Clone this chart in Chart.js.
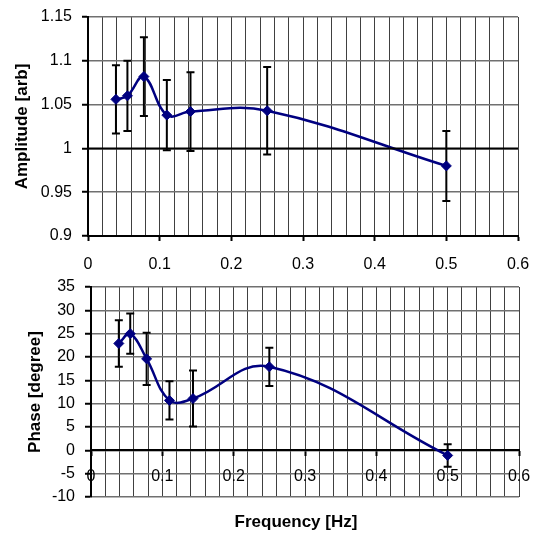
<!DOCTYPE html>
<html>
<head>
<meta charset="utf-8">
<script src="https://cdn.jsdelivr.net/npm/chart.js@4.4.0/dist/chart.umd.min.js"></script>
<style>
  body { margin: 0; background: #fff; }
  canvas { display: block; }
</style>
</head>
<body>
<canvas id="ampChart" width="538" height="270"></canvas>
<canvas id="phaseChart" width="538" height="265"></canvas>
<script>
// Fréquences mesurées (Hz)
const freq = [0.039, 0.055, 0.078, 0.11, 0.143, 0.25, 0.5];
// Amplitude et barres d'erreur
const amp = [1.056, 1.060, 1.082, 1.038, 1.042, 1.043, 0.980];
const ampErr = [0.039, 0.040, 0.045, 0.040, 0.045, 0.050, 0.040];
// Phase (degrés) et barres d'erreur
const phase = [22.9, 25.0, 19.6, 10.7, 11.1, 17.9, -1.1];
const phaseErr = [5.0, 4.3, 5.6, 4.1, 6.0, 4.1, 2.4];
// Ligne de référence à 1
const refX = [0, 0.6];
const refY = [1, 1];
// Graduations
const xTickLabels = ['0', '0.1', '0.2', '0.3', '0.4', '0.5', '0.6'];
const ampTicks = [0.9, 0.95, 1, 1.05, 1.1, 1.15];
const phaseTicks = [-10, -5, 0, 5, 10, 15, 20, 25, 30, 35];

const FONT = '"Liberation Sans", Arial, sans-serif';
const NAVY = '#000080';

// Plugin pour dessiner les barres d'erreur via les échelles
const errorBars = {
  id: 'errorBars',
  beforeDatasetsDraw(chart, args, opts) {
    const xs = chart.scales.x, ys = chart.scales.y;
    const ctx = chart.ctx;
    ctx.save();
    ctx.strokeStyle = '#000';
    ctx.lineWidth = 2;
    opts.values.forEach((v, i) => {
      const x = xs.getPixelForValue(freq[i]);
      const yTop = ys.getPixelForValue(v + opts.err[i]);
      const yBot = ys.getPixelForValue(v - opts.err[i]);
      ctx.beginPath();
      ctx.moveTo(x, yTop); ctx.lineTo(x, yBot);
      ctx.moveTo(x - 4, yTop); ctx.lineTo(x + 4, yTop);
      ctx.moveTo(x - 4, yBot); ctx.lineTo(x + 4, yBot);
      ctx.stroke();
    });
    ctx.restore();
  }
};

// Titre de l'axe des fréquences sous le second graphique
const freqLabel = {
  id: 'freqLabel',
  afterDraw(chart) {
    const ctx = chart.ctx;
    ctx.save();
    ctx.font = 'bold 17px ' + FONT;
    ctx.fillStyle = '#000';
    ctx.textAlign = 'center';
    ctx.textBaseline = 'middle';
    ctx.fillText('Frequency [Hz]', 296, 252);
    ctx.restore();
  }
};

function isMajor(v) {
  return Math.abs(v * 10 - Math.round(v * 10)) < 1e-6;
}

function xScale(position, pad) {
  return {
    type: 'linear',
    position: position,
    min: 0,
    max: 0.6,
    // hauteur fixe, et pas de marge ajoutée pour les étiquettes des bords
    afterFit: s => { s.height = 34; s.paddingLeft = 0; s.paddingRight = 0; },
    ticks: {
      stepSize: 0.02,
      autoSkip: false,
      maxRotation: 0,
      padding: pad,
      color: '#000',
      font: { family: FONT, size: 16 },
      callback: v => isMajor(v) ? xTickLabels[Math.round(v * 10)] : ''
    },
    grid: {
      color: '#404040',
      lineWidth: 1,
      tickLength: 5,
      tickColor: c => (c.tick && isMajor(c.tick.value)) ? '#000' : 'rgba(0,0,0,0)',
      tickWidth: 2
    },
    border: { color: '#000', width: 2 }
  };
}

function yScale(title, ticks, width, titlePad) {
  return {
    type: 'linear',
    min: ticks[0],
    max: ticks[ticks.length - 1],
    afterFit: s => { s.width = width; s.paddingTop = 0; s.paddingBottom = 0; },
    afterBuildTicks: s => { s.ticks = ticks.map(v => ({ value: v })); },
    ticks: {
      padding: 10,
      color: '#000',
      font: { family: FONT, size: 16 },
      callback: v => String(v)
    },
    grid: { color: '#707070', lineWidth: 1.5, tickLength: 6, tickColor: '#000', tickWidth: 2 },
    border: { color: '#000', width: 2 },
    title: {
      display: true,
      text: title,
      color: '#000',
      font: { family: FONT, size: 17, weight: 'bold' },
      padding: { top: titlePad, bottom: 0 }
    }
  };
}

function dataset(values) {
  return {
    data: values.map((v, i) => ({ x: freq[i], y: v })),
    borderColor: NAVY,
    backgroundColor: NAVY,
    borderWidth: 2.5,
    pointStyle: 'rectRot',
    pointRadius: 5,
    pointBorderWidth: 1,
    tension: 0.4
  };
}

// Graphique amplitude
new Chart(document.getElementById('ampChart'), {
  type: 'line',
  data: {
    datasets: [
      {
        data: refX.map((x, i) => ({ x: x, y: refY[i] })),
        borderColor: '#000',
        borderWidth: 2,
        pointRadius: 0
      },
      dataset(amp)
    ]
  },
  options: {
    responsive: false,
    animation: false,
    layout: { padding: { left: 0, top: 17, right: 20, bottom: 0 } },
    plugins: {
      legend: { display: false },
      tooltip: { enabled: false },
      errorBars: { values: amp, err: ampErr }
    },
    scales: {
      x: xScale('bottom', 14),
      y: yScale('Amplitude [arb]', ampTicks, 88, 12)
    }
  },
  plugins: [errorBars]
});

// Graphique phase
new Chart(document.getElementById('phaseChart'), {
  type: 'line',
  data: { datasets: [dataset(phase)] },
  options: {
    responsive: false,
    animation: false,
    layout: { padding: { left: 0, top: 17, right: 19, bottom: 38 } },
    plugins: {
      legend: { display: false },
      tooltip: { enabled: false },
      errorBars: { values: phase, err: phaseErr }
    },
    scales: {
      x: xScale({ y: 0 }, 12),
      y: yScale('Phase [degree]', phaseTicks, 91, 25)
    }
  },
  plugins: [errorBars, freqLabel]
});
</script>
</body>
</html>
